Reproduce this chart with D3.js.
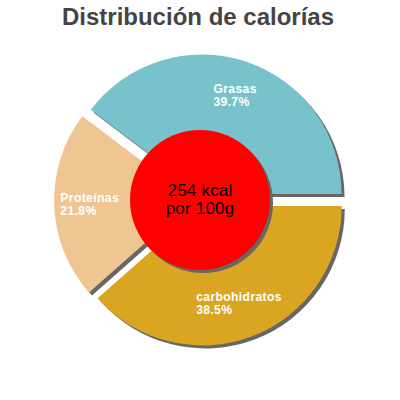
<!DOCTYPE html>
<html>
<head>
<meta charset="utf-8">
<script src="https://cdn.jsdelivr.net/npm/d3@7"></script>
<style>
  html, body { margin: 0; padding: 0; background: #fff; }
  svg { display: block; }
</style>
</head>
<body>
<svg id="chart" width="400" height="400"></svg>
<script>
const title = "Distribución de calorías";
const categories = ["Grasas", "Proteínas", "carbohidratos"];
const percentages = [39.7, 21.8, 38.5];
const colors = ["#78c3cb", "#efc592", "#daa520"];
const centerLines = ["254 kcal", "por 100g"];

const W = 400, H = 400;
const cx = 200, cy = 200;
const R = 139.5, innerR = 70, explode = 6.4, labelDist = 104;
const shadowDx = 3, shadowDy = 3;

const svg = d3.select("#chart");

svg.append("text")
  .attr("x", 198).attr("y", 25)
  .attr("text-anchor", "middle")
  .attr("font-family", "'Liberation Sans', Arial, sans-serif")
  .attr("font-weight", "bold")
  .attr("font-size", 24)
  .attr("fill", "#444")
  .text(title);

const data = categories.map((c, i) => ({ name: c, value: percentages[i], color: colors[i] }));

const pie = d3.pie().value(d => d.value).sort(null)
  .startAngle(Math.PI / 2).endAngle(Math.PI / 2 - 2 * Math.PI);
const arcs = pie(data);
const arc = d3.arc().innerRadius(0).outerRadius(R);

function offset(a) {
  const m = (a.startAngle + a.endAngle) / 2;
  return [Math.sin(m) * explode, -Math.cos(m) * explode, m];
}

const g = svg.append("g").attr("transform", `translate(${cx},${cy})`);

// shadows
g.selectAll("path.shadow").data(arcs).enter().append("path")
  .attr("class", "shadow")
  .attr("d", arc)
  .attr("fill", "#666")
  .attr("transform", d => { const o = offset(d); return `translate(${o[0] + shadowDx},${o[1] + shadowDy})`; });

// slices
g.selectAll("path.slice").data(arcs).enter().append("path")
  .attr("class", "slice")
  .attr("d", arc)
  .attr("fill", d => d.data.color)
  .attr("transform", d => { const o = offset(d); return `translate(${o[0]},${o[1]})`; });

// labels
const fmt = d3.format(".1f");
arcs.forEach(d => {
  const o = offset(d);
  const px = o[0] + Math.sin(o[2]) * labelDist;
  const py = o[1] - Math.cos(o[2]) * labelDist;
  const mk = (y, s) => g.append("text")
    .attr("y", y)
    .attr("font-family", "'Liberation Sans', Arial, sans-serif")
    .attr("font-weight", "bold")
    .attr("font-size", 12.2)
    .attr("letter-spacing", 0.35)
    .attr("fill", "#fff")
    .text(s);
  const l1 = mk(py - 2, d.data.name);
  const l2 = mk(py + 10.6, fmt(d.data.value) + "%");
  const w = Math.max(l1.node().getComputedTextLength(), l2.node().getComputedTextLength());
  l1.attr("x", px - w / 2);
  l2.attr("x", px - w / 2);
});

// center circle
g.append("circle").attr("cx", shadowDx).attr("cy", shadowDy).attr("r", innerR).attr("fill", "#666");
g.append("circle").attr("cx", 0).attr("cy", 0).attr("r", innerR).attr("fill", "#ff0000");

centerLines.forEach((s, i) => {
  g.append("text")
    .attr("x", 0)
    .attr("y", -4.5 + i * 18.5)
    .attr("text-anchor", "middle")
    .attr("font-family", "'Liberation Sans', Arial, sans-serif")
    .attr("font-size", 17)
    .attr("letter-spacing", 0.2)
    .attr("fill", "#000")
    .text(s);
});
</script>
</body>
</html>
